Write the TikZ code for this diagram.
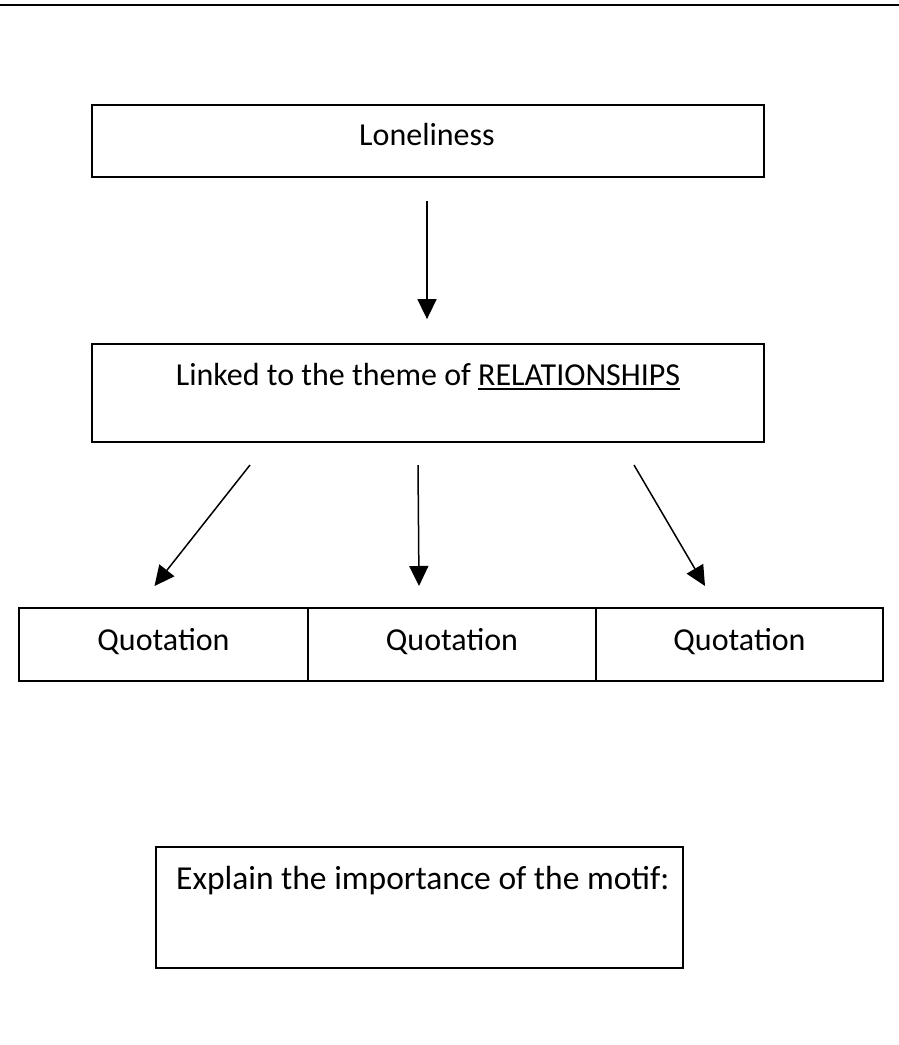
\documentclass[tikz,border=0pt]{standalone}
\usepackage{fontspec}
\setmainfont{Carlito}
\usetikzlibrary{arrows.meta}
\newcommand\myul[1]{\setbox0\hbox{#1}\rlap{\rule[-5pt]{\wd0}{1.6pt}}\box0}
\begin{document}
\begin{tikzpicture}[x=1pt,y=-1pt,
  box/.style={draw=black, line width=1.8pt, rectangle, inner sep=0pt},
  txt/.style={anchor=base, inner sep=0pt, font=\fontsize{32}{38}\selectfont},
  arr/.style={line width=1.5pt, -{Triangle[length=20pt,width=19pt]}}]
\useasboundingbox (0,0) rectangle (899,1045);
\fill[white] (0,0) rectangle (899,1045);
% top rule
\draw[line width=2.8pt] (0,5) -- (899,5);
% boxes
\node[box, minimum width=672pt, minimum height=72pt] (lone) at (428,141) {};
\node[txt] (lonet) at (427,145) {Loneliness};
\node[box, minimum width=672pt, minimum height=98pt] (rel) at (428,393) {};
\node[txt] (relt) at (428,385) {Linked to the theme of \myul{RELATIONSHIPS}};
\node[box, minimum width=289pt, minimum height=73pt] (q1) at (163.5,644.5) {};
\node[box, minimum width=288pt, minimum height=73pt] (q2) at (452,644.5) {};
\node[box, minimum width=287pt, minimum height=73pt] (q3) at (739.5,644.5) {};
\node[txt] (q1t) at (q1.center |- 0,650) {Quotation};
\node[txt] (q2t) at (q2.center |- 0,650) {Quotation};
\node[txt] (q3t) at (q3.center |- 0,650) {Quotation};
\node[box, minimum width=527pt, minimum height=121pt] (mot) at (419.5,907.5) {};
\node[txt, anchor=base west, font=\fontsize{33.5}{40}\selectfont] (mott) at (176,889) {Explain the importance of the motif:};
% arrows
\draw[arr, shorten <=23pt, shorten >=24pt] (427,0 |- lone.south) -- (427,0 |- rel.north);
\coordinate (a1) at (250,465); \coordinate (b1) at (154.5,586);
\coordinate (a2) at (418,465); \coordinate (b2) at (419,586);
\coordinate (a3) at (634,465); \coordinate (b3) at (705,586);
\draw[arr] (a1) -- (b1);
\draw[arr] (a2) -- (b2);
\draw[arr] (a3) -- (b3);
\end{tikzpicture}
\end{document}
